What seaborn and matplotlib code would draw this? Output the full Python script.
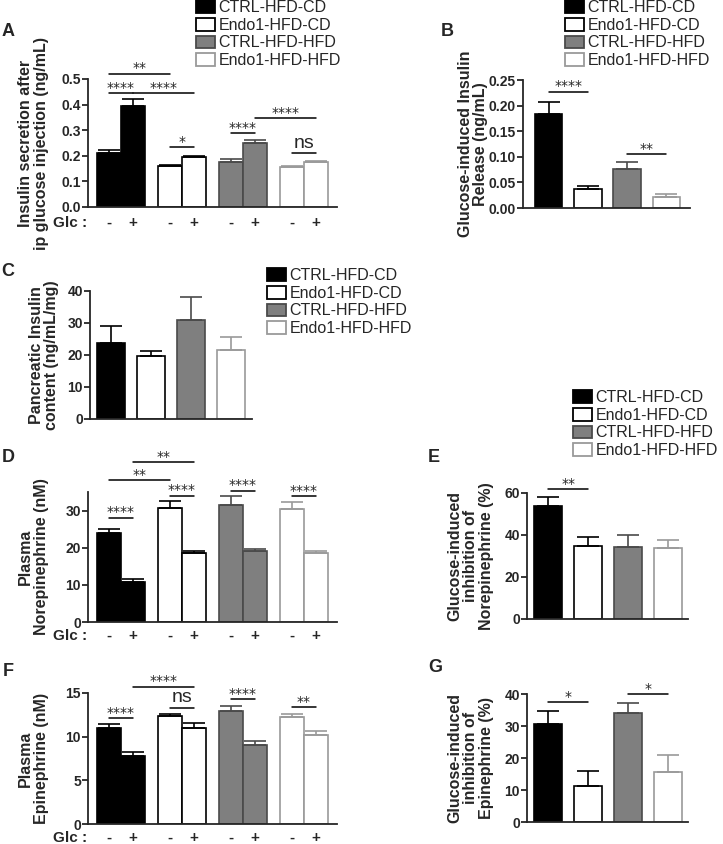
import numpy as np
import pandas as pd
import seaborn as sns
import matplotlib.pyplot as plt
from matplotlib.patches import Patch

sns.set_style("ticks")
plt.rcParams["font.family"] = ["Liberation Sans", "DejaVu Sans"]

# Данные

groups = ["CTRL-HFD-CD", "Endo1-HFD-CD", "CTRL-HFD-HFD", "Endo1-HFD-HFD"]
glc = ["-", "+"]

# A: секреция инсулина (-/+ глюкоза)
a_vals = [0.21, 0.395, 0.16, 0.197, 0.175, 0.25, 0.155, 0.177]
a_errs = [0.012, 0.025, 0.005, 0.004, 0.012, 0.010, 0.006, 0.004]
a_sig = [(0, 2, 0.52, "**"), (0, 1, 0.445, "****"), (1, 3, 0.445, "****"),
         (2, 3, 0.234, "*"), (4, 5, 0.289, "****"), (5, 7, 0.348, "****"),
         (6, 7, 0.211, "ns")]

# B: глюкозо-индуцированный выброс инсулина
b_vals = [0.183, 0.038, 0.076, 0.021]
b_errs = [0.025, 0.005, 0.013, 0.007]
b_sig = [(0, 1, 0.227, "****"), (2, 3, 0.105, "**")]

# C: инсулин в поджелудочной
c_vals = [23.7, 19.8, 31.0, 21.7]
c_errs = [5.3, 1.5, 7.2, 4.0]

# D: норадреналин в плазме
d_vals = [24.0, 10.7, 30.8, 18.7, 31.4, 19.0, 30.3, 18.5]
d_errs = [1.0, 0.8, 1.9, 0.4, 2.4, 0.7, 1.9, 0.5]
d_sig = [(1, 3, 43.0, "**"), (0, 2, 38.1, "**"), (0, 1, 28.1, "****"),
         (2, 3, 34.0, "****"), (4, 5, 35.4, "****"), (6, 7, 33.8, "****")]

# E: ингибирование норадреналина
e_vals = [53.8, 35.0, 34.5, 34.0]
e_errs = [4.5, 4.0, 5.5, 3.5]
e_sig = [(0, 1, 61.9, "**")]

# F: адреналин в плазме
f_vals = [11.0, 7.8, 12.4, 11.0, 12.9, 9.0, 12.2, 10.2]
f_errs = [0.4, 0.4, 0.15, 0.6, 0.6, 0.5, 0.4, 0.5]
f_sig = [(1, 3, 15.7, "****"), (2, 3, 13.3, "ns"), (0, 1, 12.1, "****"),
         (4, 5, 14.3, "****"), (6, 7, 13.4, "**")]

# G: ингибирование адреналина
g_vals = [30.5, 11.2, 34.0, 15.5]
g_errs = [4.2, 4.8, 3.3, 5.3]
g_sig = [(0, 1, 37.5, "*"), (2, 3, 40.0, "*")]

faces = ["black", "white", "#7f7f7f", "white"]
edges = ["black", "black", "#4a4a4a", "#9a9a9a"]

W, H = 723, 844
fig = plt.figure(figsize=(W / 100, H / 100), dpi=100)


def add_ax(left, right, y0, ytop):
    return fig.add_axes([left / W, 1 - y0 / H, (right - left) / W, (y0 - ytop) / H])


def draw(ax, vals, errs, paired, xlim, ylim, yticks, fmt, sig, ylabel, label_x):
    if paired:
        df = pd.DataFrame({"group": np.repeat(groups, 2), "glc": glc * 4, "value": vals})
        sns.barplot(data=df, x="group", y="value", hue="glc", order=groups, hue_order=glc,
                    width=0.8, gap=0, errorbar=None, legend=False, ax=ax)
    else:
        df = pd.DataFrame({"group": groups, "value": vals})
        sns.barplot(data=df, x="group", y="value", order=groups, width=0.7,
                    errorbar=None, ax=ax)
    bars = sorted(ax.patches, key=lambda p: p.get_x())
    centers = []
    for i, p in enumerate(bars):
        g = i // 2 if paired else i
        p.set_facecolor(faces[g])
        p.set_edgecolor(edges[g])
        p.set_linewidth(1.2)
        cx = p.get_x() + p.get_width() / 2
        centers.append(cx)
        ax.errorbar(cx, p.get_height(), yerr=[[0], [errs[i]]], color=edges[g],
                    capsize=8, elinewidth=1.2, capthick=1.2, zorder=3)
    ax.set_xlim(*xlim)
    ax.set_ylim(*ylim)
    ax.set_yticks(yticks)
    ax.set_yticklabels([fmt % t for t in yticks], fontsize=10, fontweight="bold")
    ax.set_xticks([])
    ax.set_xlabel("")
    ax.set_ylabel(ylabel, fontsize=11.5, fontweight="bold", linespacing=1.05)
    ax.yaxis.set_label_coords(label_x, 0.5)
    ax.yaxis.label.set_va("center")
    sns.despine(ax=ax)
    for s in ["left", "bottom"]:
        ax.spines[s].set_linewidth(1.3)
    ax.tick_params(axis="y", length=4, width=1.3, pad=1)
    for a, b, y, txt in sig:
        ax.plot([centers[a], centers[b]], [y, y], color="black", lw=1.1, clip_on=False)
        mid = (centers[a] + centers[b]) / 2
        if txt == "ns":
            ax.annotate(txt, xy=(mid, y), xytext=(0, 1), textcoords="offset points",
                        ha="center", va="bottom", fontsize=14, annotation_clip=False)
        else:
            ax.annotate(txt, xy=(mid, y), xytext=(0, 1), textcoords="offset points",
                        ha="center", va="baseline", fontsize=10, family="DejaVu Sans",
                        annotation_clip=False)
    return centers


def glc_row(ax, centers, dy):
    ax.annotate("Glc :", xy=(0, 0), xycoords="axes fraction", xytext=(-1, -dy),
                textcoords="offset pixels", ha="right", va="center",
                fontsize=11, fontweight="bold", annotation_clip=False)
    for i, cx in enumerate(centers):
        ax.annotate(glc[i % 2], xy=(cx, 0), xytext=(0, -dy), textcoords="offset pixels",
                    ha="center", va="center", fontsize=11, fontweight="bold",
                    annotation_clip=False)


def legend(x, y):
    handles = [Patch(facecolor=f, edgecolor=e, linewidth=1.3) for f, e in zip(faces, edges)]
    fig.legend(handles, groups, loc="upper left", bbox_to_anchor=(x / W, 1 - y / H),
               frameon=False, fontsize=11.5, handlelength=1.2, handleheight=0.85,
               handletextpad=0.2, labelspacing=0.17, borderpad=0, borderaxespad=0)


# Панели

ax = add_ax(88, 337, 207, 79)
c = draw(ax, a_vals, a_errs, True, (-0.54, 3.54), (0, 0.5), [0, 0.1, 0.2, 0.3, 0.4, 0.5], "%.1f",
         a_sig, "Insulin secretion after\nip glucose injection (ng/mL)", -0.22)
glc_row(ax, c, 16)

ax = add_ax(523, 690, 208, 80)
draw(ax, b_vals, b_errs, False, (-0.65, 3.6), (0, 0.25), [0, 0.05, 0.10, 0.15, 0.20, 0.25], "%.2f",
     b_sig, "Glucose-induced Insulin\nRelease (ng/mL)", -0.3)

ax = add_ax(90, 252, 419, 291)
draw(ax, c_vals, c_errs, False, (-0.53, 3.53), (0, 40), [0, 10, 20, 30, 40], "%d",
     [], "Pancreatic Insulin\ncontent (ng/mL/mg)", -0.285)

ax = add_ax(88, 337, 622, 492)
c = draw(ax, d_vals, d_errs, True, (-0.54, 3.54), (0, 35), [0, 10, 20, 30], "%d",
         d_sig, "Plasma\nNorepinephrine (nM)", -0.22)
glc_row(ax, c, 14)

ax = add_ax(527, 688, 619, 493)
draw(ax, e_vals, e_errs, False, (-0.53, 3.5), (0, 60), [0, 20, 40, 60], "%d",
     e_sig, "Glucose-induced\ninhibition of\nNorepinephrine (%)", -0.35)

ax = add_ax(88, 337, 824, 693)
c = draw(ax, f_vals, f_errs, True, (-0.54, 3.54), (0, 15), [0, 5, 10, 15], "%d",
         f_sig, "Plasma\nEpinephrine (nM)", -0.22)
glc_row(ax, c, 14)

ax = add_ax(527, 688, 822, 694)
draw(ax, g_vals, g_errs, False, (-0.53, 3.5), (0, 40), [0, 10, 20, 30, 40], "%d",
     g_sig, "Glucose-induced\ninhibition of\nEpinephrine (%)", -0.35)

legend(196, 0)
legend(565, 0)
legend(267, 268)
legend(573, 390)

for letter, x, y in [("A", 8, 31), ("B", 447, 31), ("C", 8, 271), ("D", 8, 458),
                     ("E", 434, 458), ("F", 8, 672), ("G", 435, 668)]:
    fig.text(x / W, 1 - y / H, letter, fontsize=13, fontweight="bold", ha="center", va="center")

fig.savefig("out.png", dpi=100)
